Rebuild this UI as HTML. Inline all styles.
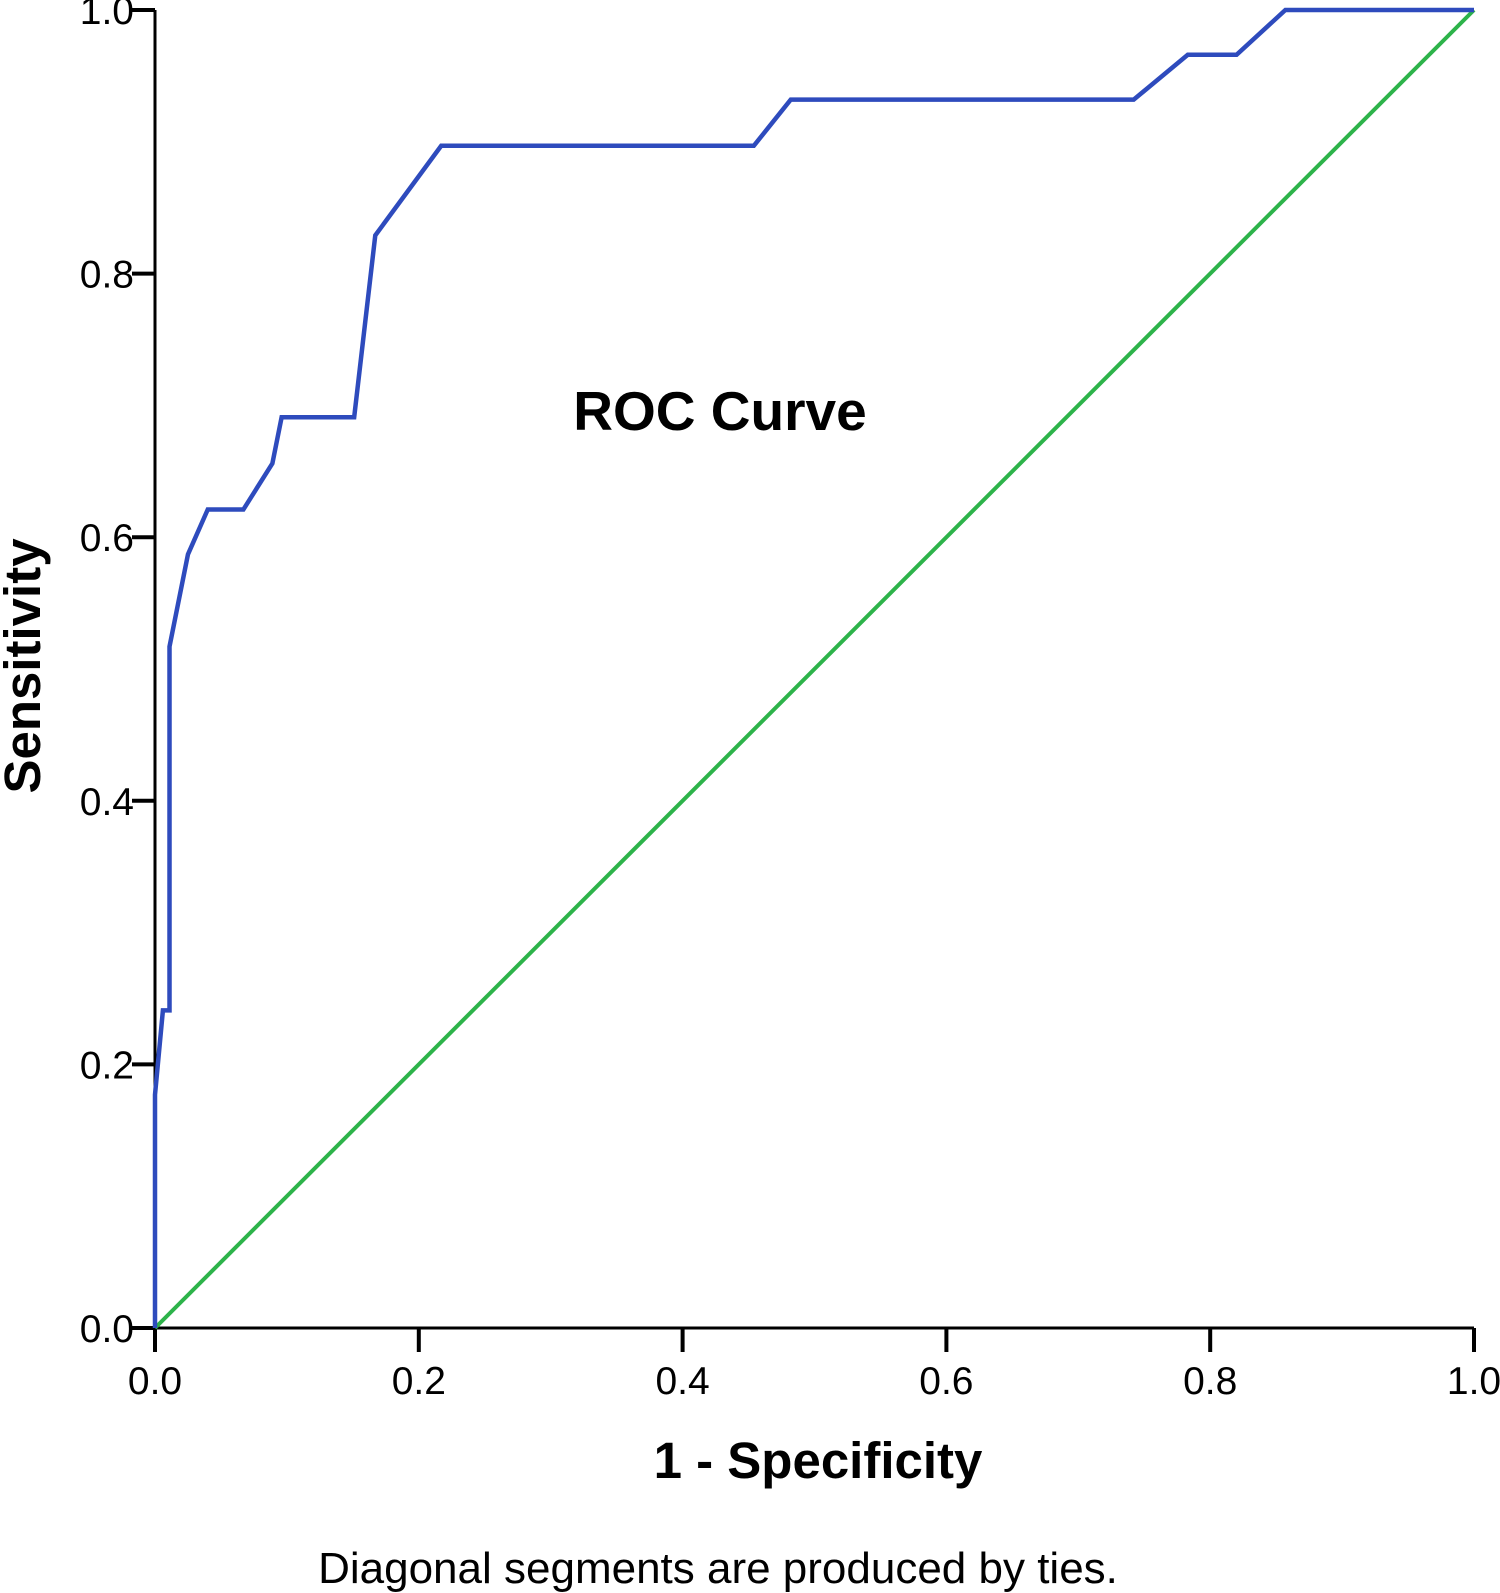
<!DOCTYPE html>
<html><head><meta charset="utf-8"><style>
body{margin:0;background:#fff;}
svg{display:block;font-family:"Liberation Sans",Arial,sans-serif;}
</style></head><body>
<svg id="chart" width="1500" height="1593" viewBox="0 0 1500 1593">
<g id="axes"></g>
<polyline id="diag" fill="none" stroke="#2db34a" stroke-width="4"/>
<polyline id="roc" fill="none" stroke="#2e4bbd" stroke-width="4.5" stroke-linejoin="miter"/>
<text x="720" y="430" font-size="55" font-weight="bold" text-anchor="middle">ROC Curve</text>
<text x="818" y="1478" font-size="51" font-weight="bold" text-anchor="middle">1 - Specificity</text>
<text transform="translate(40,666) rotate(-90)" font-size="51" font-weight="bold" text-anchor="middle">Sensitivity</text>
<text x="718" y="1583" font-size="44" text-anchor="middle">Diagonal segments are produced by ties.</text>
</svg>
<script>
const rocX=[0,0,0.006,0.011,0.011,0.025,0.040,0.067,0.089,0.096,0.151,0.167,0.217,0.454,0.482,0.742,0.783,0.820,0.857,1];
const rocY=[0,0.177,0.241,0.241,0.517,0.587,0.621,0.621,0.656,0.691,0.691,0.829,0.897,0.897,0.932,0.932,0.966,0.966,1,1];
const diagX=[0,1];
const diagY=[0,1];
const ticks=[0,0.2,0.4,0.6,0.8,1.0];
const tickLabels=["0.0","0.2","0.4","0.6","0.8","1.0"];
const X0=155,X1=1474,Y0=1328,Y1=10;
const sx=v=>X0+v*(X1-X0), sy=v=>Y0-v*(Y0-Y1);
const NS="http://www.w3.org/2000/svg";
const ax=document.getElementById('axes');
function mk(t,a){const e=document.createElementNS(NS,t);for(const k in a)e.setAttribute(k,a[k]);ax.appendChild(e);return e;}
let l=mk('line',{x1:X0,y1:Y0,x2:X1,y2:Y0,stroke:'#000','stroke-width':3});


l=mk('line',{x1:X0,y1:Y0,x2:X0,y2:Y1,stroke:'#000','stroke-width':3});


ticks.forEach((t,i)=>{
  let a=mk('line',{x1:sx(t),y1:Y0,x2:sx(t),y2:Y0+24,stroke:'#000','stroke-width':4});
  
  
  let b=mk('line',{x1:X0-23,y1:sy(t),x2:X0,y2:sy(t),stroke:'#000','stroke-width':4});
  
  
  let tx=mk('text',{x:sx(t),y:Y0+66,'font-size':39,'text-anchor':'middle'});
  tx.textContent=tickLabels[i];
  
  
  let ty=mk('text',{x:X0-21,y:sy(t)+14,'font-size':39,'text-anchor':'end'});
  ty.textContent=tickLabels[i];
  
  
});
document.getElementById('roc').setAttribute('points',rocX.map((x,i)=>sx(x)+','+sy(rocY[i])).join(' '));
document.getElementById('diag').setAttribute('points',diagX.map((x,i)=>sx(x)+','+sy(diagY[i])).join(' '));
</script>
</body></html>
